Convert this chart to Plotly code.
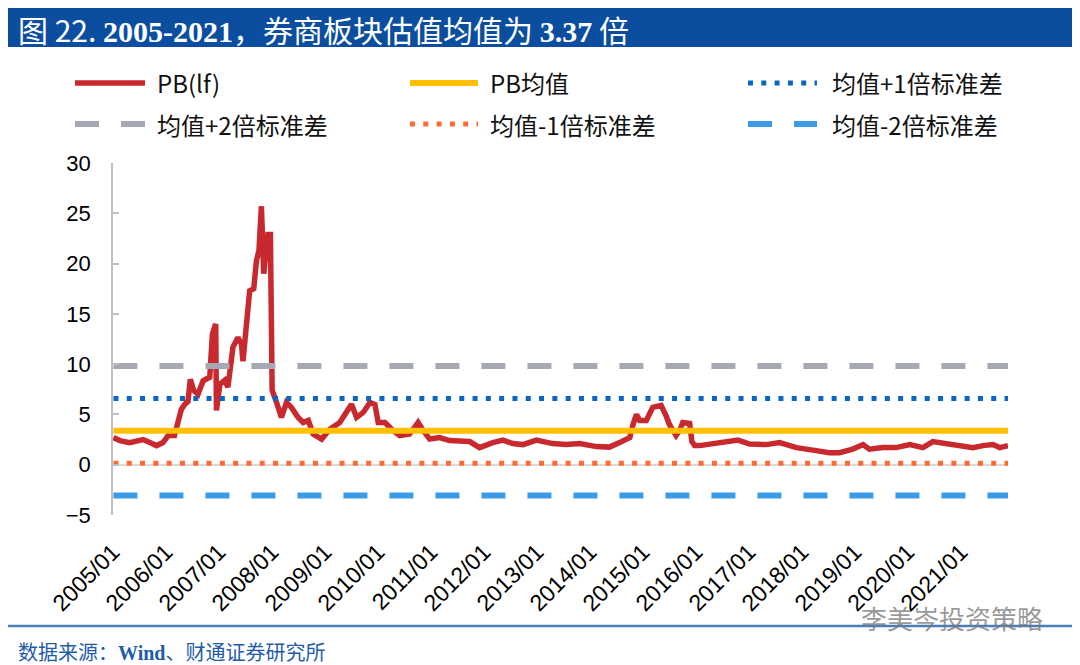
import plotly.graph_objects as go

# 券商板块 PB(lf)
dates = [
    '2005-01-04', '2005-02-18', '2005-04-26', '2005-07-27', '2005-09-12', '2005-10-28',
    '2005-12-12', '2006-01-16', '2006-03-01', '2006-03-24', '2006-04-17', '2006-05-10',
    '2006-06-02', '2006-06-18', '2006-07-10', '2006-08-10', '2006-09-14', '2006-10-30',
    '2006-11-17', '2006-12-10', '2006-12-15', '2007-01-08', '2007-02-11', '2007-03-04',
    '2007-04-08', '2007-05-12', '2007-06-05', '2007-06-16', '2007-07-09', '2007-08-01',
    '2007-08-29', '2007-09-17', '2007-10-04', '2007-10-21', '2007-11-06', '2007-11-20',
    '2007-12-05', '2007-12-22', '2008-01-03', '2008-02-02', '2008-03-07', '2008-04-11',
    '2008-05-15', '2008-06-30', '2008-08-04', '2008-09-08', '2008-10-12', '2008-12-09',
    '2009-02-05', '2009-04-13', '2009-06-10', '2009-07-03', '2009-08-07', '2009-09-22',
    '2009-11-07', '2009-12-11', '2010-01-03', '2010-02-18', '2010-04-15', '2010-05-31',
    '2010-08-08', '2010-10-05', '2010-11-09', '2010-12-24', '2011-03-02', '2011-05-10',
    '2011-09-25', '2011-12-03', '2012-03-03', '2012-05-12', '2012-07-18', '2012-09-27',
    '2012-12-28', '2013-04-20', '2013-07-22', '2013-10-22', '2014-02-15', '2014-05-15',
    '2014-07-25', '2014-10-03', '2014-10-25', '2014-11-18', '2014-12-10', '2015-01-25',
    '2015-03-10', '2015-05-07', '2015-06-12', '2015-07-03', '2015-08-18', '2015-09-12',
    '2015-10-03', '2015-11-20', '2015-12-05', '2015-12-24', '2016-01-28', '2016-04-05',
    '2016-07-06', '2016-10-18', '2017-01-06', '2017-05-01', '2017-08-01', '2017-11-25',
    '2018-03-18', '2018-07-10', '2018-09-18', '2018-12-18', '2019-02-27', '2019-04-12',
    '2019-07-12', '2019-10-12', '2020-01-15', '2020-04-15', '2020-06-22', '2020-09-25',
    '2020-12-25', '2021-03-25', '2021-06-03', '2021-08-10', '2021-09-25', '2021-11-22',
]
pb_lf = [
    2.7, 2.4, 2.2, 2.5, 2.2, 1.9,
    2.2, 2.9, 2.9, 4.0, 5.5, 6.0,
    6.3, 8.5, 7.4, 7.0, 8.35, 8.7,
    13.0, 14.0, 5.4, 8.0, 8.4, 7.7,
    11.7, 12.65, 12.0, 10.3, 14.3, 17.3,
    17.5, 20.3, 21.3, 25.7, 19.0, 20.6,
    22.9, 22.9, 7.4, 6.2, 4.7, 6.2,
    5.7, 4.7, 4.2, 4.4, 3.05, 2.55,
    3.55, 4.2, 5.4, 6.0, 4.7, 5.2,
    6.2, 6.0, 4.2, 4.2, 3.4, 2.9,
    3.05, 4.2, 3.4, 2.55, 2.7, 2.4,
    2.3, 1.7, 2.2, 2.45, 2.1, 2.0,
    2.45, 2.1, 2.0, 2.1, 1.8, 1.75,
    2.2, 2.7, 4.0, 5.0, 4.4, 4.4,
    5.7, 5.9, 4.8, 4.0, 2.9, 3.4,
    4.2, 4.1, 2.3, 1.9, 1.9, 2.05,
    2.2, 2.45, 2.05, 2.0, 2.2, 1.7,
    1.45, 1.2, 1.2, 1.55, 2.0, 1.55,
    1.7, 1.7, 2.0, 1.7, 2.3, 2.1,
    1.9, 1.7, 1.9, 2.0, 1.7, 1.9,
]

# horizontal reference levels
pb_mean = 3.37
plus_1sd = 6.59
plus_2sd = 9.81
minus_1sd = 0.15
minus_2sd = -3.07

tick_years = list(range(2005, 2022))
tick_vals = [f'{y}-01-01' for y in tick_years]
tick_text = [f'{y}/01' for y in tick_years]

# the page body has an 8px margin, so the figure is a bit smaller than the window
# and every layout position below is given in window pixels
OFF = 8
W, H = 1080 - OFF, 665 - OFF


def px(x):
    return (x - OFF) / W


def py(y):
    return 1 - (y - OFF) / H


CJK = 'Noto Sans CJK SC'
SERIF = 'Liberation Serif'

# name, color, dash, width
series_style = [
    ('PB(lf)', '#C8292F', 'solid', 5.5),
    ('PB均值', '#FFC000', 'solid', 6),
    ('均值+1倍标准差', '#0A66C2', '5px,8.3px', 5),
    ('均值+2倍标准差', '#A6A9B1', '24px,22px', 6),
    ('均值-1倍标准差', '#FF6B35', '5px,8.3px', 5),
    ('均值-2倍标准差', '#3A9BE6', '24px,22px', 6),
]
levels = [pb_mean, plus_1sd, plus_2sd, minus_1sd, minus_2sd]

fig = go.Figure()
name, color, dash, width = series_style[0]
fig.add_trace(go.Scatter(x=dates, y=pb_lf, mode='lines', name=name,
                         line=dict(color=color, width=width)))
for (name, color, dash, width), level in zip(series_style[1:], levels):
    fig.add_trace(go.Scatter(x=[dates[0], dates[-1]], y=[level, level], mode='lines',
                             name=name, line=dict(color=color, width=width, dash=dash)))

shapes = []
annotations = []

# title bar
shapes.append(dict(type='rect', xref='paper', yref='paper', x0=0, x1=1,
                   y0=py(47), y1=1, fillcolor='#0B4EA0', line=dict(width=0), layer='below'))
annotations.append(dict(
    xref='paper', yref='paper', x=px(16), y=py(29), xanchor='left', yanchor='middle',
    showarrow=False,
    text=(f'图 22. <b><span style="font-family:{SERIF}">2005-2021</span></b>，券商板块估值均值为 '
          f'<b><span style="font-family:{SERIF}">3.37</span></b> 倍'),
    font=dict(family=CJK, size=30, color='white')))

# legend drawn by hand, 3 columns x 2 rows
leg_cols = [(75, 145, 155), (410, 478, 488), (748, 817, 830)]
leg_rows = [83, 124]
for i, (name, color, dash, width) in enumerate(series_style):
    x0, x1, xt = leg_cols[i % 3]
    yy = leg_rows[i // 3]
    shapes.append(dict(type='line', xref='paper', yref='paper', x0=px(x0), x1=px(x1),
                       y0=py(yy), y1=py(yy), line=dict(color=color, width=width, dash=dash)))
    annotations.append(dict(xref='paper', yref='paper', x=px(xt), y=py(yy), xanchor='left',
                            yanchor='middle', showarrow=False, text=name,
                            font=dict(family=CJK, size=24, color='#111111')))

# footer
shapes.append(dict(type='line', xref='paper', yref='paper', x0=0, x1=1, y0=py(626), y1=py(626),
                   line=dict(color='#4A7EBB', width=2.5)))
annotations.append(dict(
    xref='paper', yref='paper', x=px(16), y=py(651), xanchor='left', yanchor='middle',
    showarrow=False,
    text=f'数据来源：<b><span style="font-family:{SERIF}">Wind</span></b>、财通证券研究所',
    font=dict(family=CJK, size=20, color='#1F5CA8')))
annotations.append(dict(
    xref='paper', yref='paper', x=px(1045), y=py(617), xanchor='right', yanchor='middle',
    showarrow=False, text='李美岑投资策略',
    font=dict(family=CJK, size=26, color='rgba(120,120,120,0.75)')))

fig.update_layout(
    width=W, height=H,
    margin=dict(l=0, r=0, t=0, b=0),
    paper_bgcolor='white', plot_bgcolor='white',
    showlegend=False,
    shapes=shapes, annotations=annotations,
    xaxis=dict(domain=[px(113), px(1008)], type='date', automargin=False,
               range=['2005-01-01', dates[-1]],
               tickmode='array', tickvals=tick_vals, ticktext=tick_text,
               tickangle=-45, ticks='', showgrid=False, showline=False, zeroline=False,
               ticklabelstandoff=18,
               tickfont=dict(family='Liberation Sans', size=23, color='black')),
    yaxis=dict(domain=[py(515), py(163)], range=[-5, 30], dtick=5, automargin=False,
               showgrid=False, showline=True, linecolor='#BFBFBF', linewidth=1.5,
               ticks='inside', ticklen=6, tickcolor='#BFBFBF', tickwidth=1.5,
               zeroline=True, zerolinecolor='#D9D9D9', zerolinewidth=1.5,
               ticklabelstandoff=16,
               tickfont=dict(family='Liberation Sans', size=22, color='black')),
)

fig.write_html('out.html')
